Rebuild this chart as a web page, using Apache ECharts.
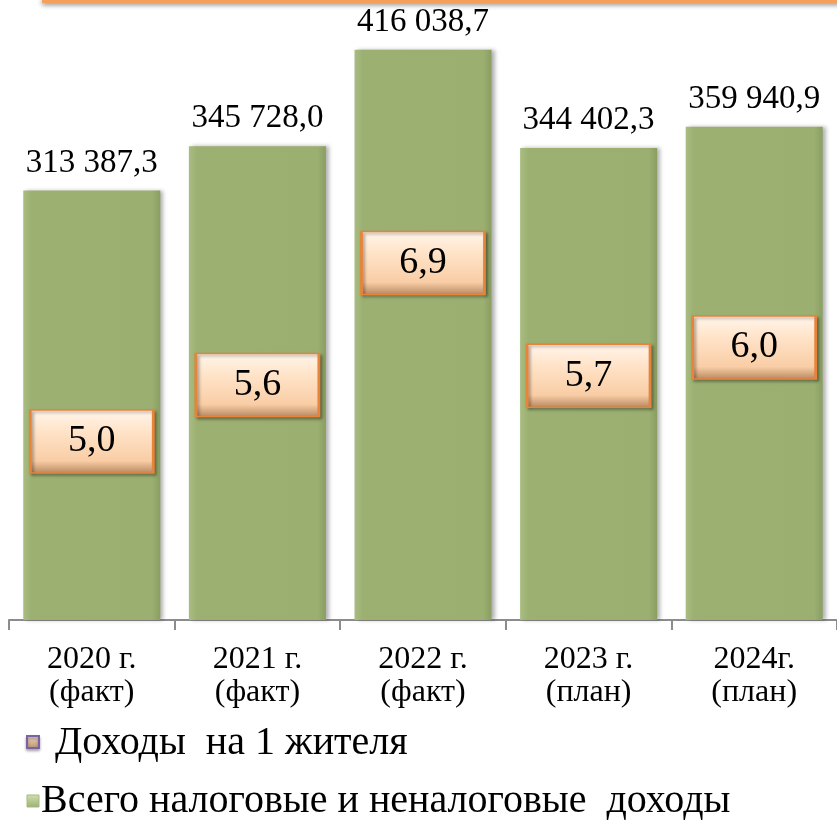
<!DOCTYPE html>
<html>
<head>
<meta charset="utf-8">
<script src="https://cdn.jsdelivr.net/npm/echarts@6/dist/echarts.min.js"></script>
<style>
html, body { margin: 0; padding: 0; background: #fff; }
#chart { width: 837px; height: 823px; }
</style>
</head>
<body>
<div id="chart"></div>
<script>
// Доходы бюджета по годам
var years = ['2020 г.\n(факт)', '2021 г.\n(факт)', '2022 г.\n(факт)', '2023 г.\n(план)', '2024г.\n(план)'];
var totalIncome = [313387.3, 345728.0, 416038.7, 344402.3, 359940.9];
var perResident = [5.0, 5.6, 6.9, 5.7, 6.0];

var nameTotal = 'Всего налоговые и неналоговые  доходы';
var namePer = 'Доходы  на 1 жителя';

var fmtNum = function(v) {
	var s = v.toFixed(1).split('.');
	return s[0].replace(/\B(?=(\d{3})+(?!\d))/g, ' ') + ',' + s[1];
};

var serif = '"Liberation Serif", "DejaVu Serif", serif';
var legendFont = '40px ' + serif;

var myChart = echarts.init(document.getElementById('chart'));
var option = {
	animation: false,
	grid: {
		left: 9,
		width: 830,
		top: 28,
		bottom: 203
	},
	graphic: [
		{
			type: 'rect',
			shape: { x: 42, y: -2, width: 800, height: 5 },
			style: {
				fill: '#F5A05A',
				shadowBlur: 5,
				shadowOffsetY: 2,
				shadowColor: 'rgba(0,0,0,0.45)'
			}
		},
		// легенда
		{
			type: 'rect',
			shape: { x: 27, y: 736, width: 12, height: 12 },
			style: {
				fill: {
					type: 'linear', x: 0, y: 0, x2: 0, y2: 1,
					colorStops: [{ offset: 0, color: '#F6DEC6' }, { offset: 1, color: '#B89070' }]
				},
				stroke: '#7B62A3',
				lineWidth: 2,
				shadowBlur: 3,
				shadowOffsetY: 2,
				shadowColor: 'rgba(0,0,0,0.3)'
			}
		},
		{
			type: 'text',
			x: 55,
			y: 743,
			style: { text: namePer, font: legendFont, fill: '#000', verticalAlign: 'middle' }
		},
		{
			type: 'rect',
			shape: { x: 27, y: 795, width: 12, height: 12 },
			style: {
				fill: {
					type: 'linear', x: 0, y: 0, x2: 0, y2: 1,
					colorStops: [{ offset: 0, color: '#D3E0AE' }, { offset: 1, color: '#9CB072' }]
				},
				stroke: '#A6B97E',
				lineWidth: 1
			}
		},
		{
			type: 'text',
			x: 41,
			y: 801,
			style: { text: nameTotal, font: legendFont, fill: '#000', verticalAlign: 'middle' }
		}
	],
	xAxis: [
		{
			type: 'category',
			data: years,
			axisLine: { lineStyle: { color: '#8c8c8c', width: 2 } },
			axisTick: { show: true, length: 10, lineStyle: { color: '#8c8c8c', width: 2 } },
			axisLabel: {
				color: '#000',
				fontFamily: serif,
				fontSize: 32,
				lineHeight: 33,
				margin: 23
			}
		}
	],
	yAxis: [
		{
			type: 'value',
			min: 0,
			max: 432000,
			show: false
		},
		{
			type: 'value',
			min: 3.1,
			max: 9.4,
			show: false
		}
	],
	series: [
		{
			name: nameTotal,
			type: 'bar',
			barWidth: 137,
			data: totalIncome,
			itemStyle: {
				color: {
					type: 'linear', x: 0, y: 0, x2: 1, y2: 0,
					colorStops: [
						{ offset: 0, color: '#A9BD82' },
						{ offset: 0.06, color: '#9CB072' },
						{ offset: 0.94, color: '#9BAF71' },
						{ offset: 1, color: '#8A9E62' }
					]
				},
				shadowColor: 'rgba(0,0,0,0.3)',
				shadowBlur: 4,
				shadowOffsetX: 3
			},
			label: {
				show: true,
				position: 'top',
				distance: 11,
				color: '#000',
				fontFamily: serif,
				fontSize: 33,
				formatter: function(p) { return fmtNum(p.value); }
			}
		},
		{
			name: namePer,
			type: 'scatter',
			yAxisIndex: 1,
			symbol: 'rect',
			symbolSize: [123, 63],
			data: perResident,
			z: 5,
			itemStyle: {
				opacity: 1,
				color: {
					type: 'linear', x: 0, y: 0, x2: 0, y2: 1,
					colorStops: [
						{ offset: 0, color: '#FFF6EC' },
						{ offset: 0.35, color: '#FFE3C8' },
						{ offset: 0.8, color: '#F9CDA5' },
						{ offset: 1, color: '#B58760' }
					]
				},
				borderColor: '#E8833A',
				borderWidth: 2,
				shadowColor: 'rgba(0,0,0,0.35)',
				shadowBlur: 3,
				shadowOffsetX: 2,
				shadowOffsetY: 2
			},
			label: {
				show: true,
				position: 'inside',
				color: '#000',
				fontFamily: serif,
				fontSize: 38,
				formatter: function(p) { return p.value.toFixed(1).replace('.', ','); }
			}
		}
	]
};
myChart.setOption(option);
</script>
</body>
</html>
